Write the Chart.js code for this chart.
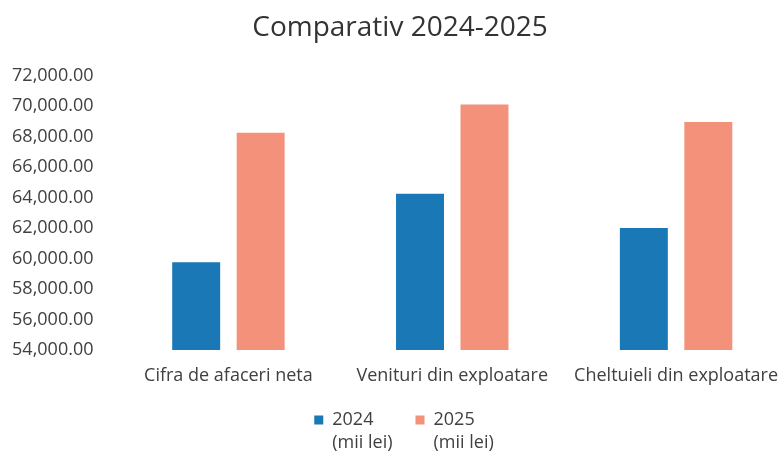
<!DOCTYPE html>
<html lang="ro">
<head>
<meta charset="utf-8">
<title>Comparativ 2024-2025</title>
<script src="https://cdn.jsdelivr.net/npm/chart.js@4/dist/chart.umd.min.js"></script>
<style>
    html, body { margin: 0; padding: 0; background: #ffffff; overflow: hidden; }
    #wrap { width: 779px; height: 454px; overflow: hidden; }
</style>
</head>
<body>
<div id="wrap">
    <canvas id="comparatifChart" width="800" height="454"></canvas>
</div>
<script>
// Données du graphique
const categories = ['Cifra de afaceri neta', 'Venituri din exploatare', 'Cheltuieli din exploatare'];
const series = ['2024', '2025'];
const unite = '(mii lei)';
const valeurs2024 = [59750, 64250, 62000];
const valeurs2025 = [68250, 70100, 68950];
const axeMin = 54000;
const axeMax = 72000;
const axePas = 2000;

const couleurTexte = '#404040';
const police = "'Open Sans', 'DejaVu Sans', sans-serif";
const taillePolice = 18;

// Légende sur deux lignes ("2024" / "(mii lei)") dessinée sous l'axe des x
const legendeDeuxLignes = {
    id: 'legendeDeuxLignes',
    afterDraw(chart) {
        const ctx = chart.ctx;
        const boite = 9;
        const ecart = 23;
        const centreX = 404;
        const yLigne1 = chart.scales.x.bottom + 30;
        const yLigne2 = yLigne1 + 23;
        ctx.save();
        ctx.font = `${taillePolice}px ${police}`;
        ctx.textAlign = 'left';
        ctx.textBaseline = 'middle';
        const items = chart.data.datasets.map((ds) => {
            const largeurTexte = Math.max(ctx.measureText(ds.label).width, ctx.measureText(unite).width);
            return { ds, largeur: boite + taillePolice / 2 + largeurTexte };
        });
        const total = items.reduce((acc, it) => acc + it.largeur, 0) + ecart * (items.length - 1);
        let x = centreX - total / 2;
        items.forEach((it) => {
            ctx.fillStyle = it.ds.backgroundColor;
            ctx.fillRect(x, yLigne1 - boite / 2, boite, boite);
            ctx.fillStyle = couleurTexte;
            ctx.fillText(it.ds.label, x + boite + taillePolice / 2, yLigne1);
            ctx.fillText(unite, x + boite + taillePolice / 2, yLigne2);
            x += it.largeur + ecart;
        });
        ctx.restore();
    }
};

const canvas = document.querySelector('#comparatifChart');

const comparatifChart = new Chart(canvas, {
    type: 'bar',
    data: {
        labels: categories,
        datasets: [
            {
                label: series[0],
                data: valeurs2024,
                backgroundColor: '#1a78b6',
                borderWidth: 0,
                categoryPercentage: 0.576,
                barPercentage: 0.744,
            },
            {
                label: series[1],
                data: valeurs2025,
                backgroundColor: '#f4917b',
                borderWidth: 0,
                categoryPercentage: 0.576,
                barPercentage: 0.744,
            },
        ],
    },
    plugins: [legendeDeuxLignes],
    options: {
        responsive: false,
        animation: false,
        layout: {
            padding: { top: 0, left: 12, right: 12, bottom: 64 },
        },
        plugins: {
            title: {
                display: true,
                text: 'Comparativ 2024-2025',
                color: '#333333',
                font: { family: police, size: 28, weight: 'normal', lineHeight: 1.2 },
                padding: { top: 11, bottom: 31 },
            },
            legend: { display: false },
            tooltip: { enabled: false },
        },
        scales: {
            x: {
                grid: { display: false, drawTicks: false },
                border: { display: false },
                ticks: {
                    color: couleurTexte,
                    padding: 15,
                    maxRotation: 0,
                    autoSkip: false,
                    font: { family: police, size: taillePolice },
                },
                afterFit: function (scale) {
                    scale.height = 40;
                },
            },
            y: {
                min: axeMin,
                max: axeMax,
                grid: { display: false, drawTicks: false },
                border: { display: false },
                ticks: {
                    stepSize: axePas,
                    color: couleurTexte,
                    padding: 23,
                    font: { family: police, size: taillePolice },
                    callback: function (value) {
                        return value.toLocaleString('en-US', { minimumFractionDigits: 2, maximumFractionDigits: 2 });
                    },
                },
                afterFit: function (scale) {
                    scale.width = 104.5;
                },
            },
        },
    },
});
</script>
</body>
</html>
